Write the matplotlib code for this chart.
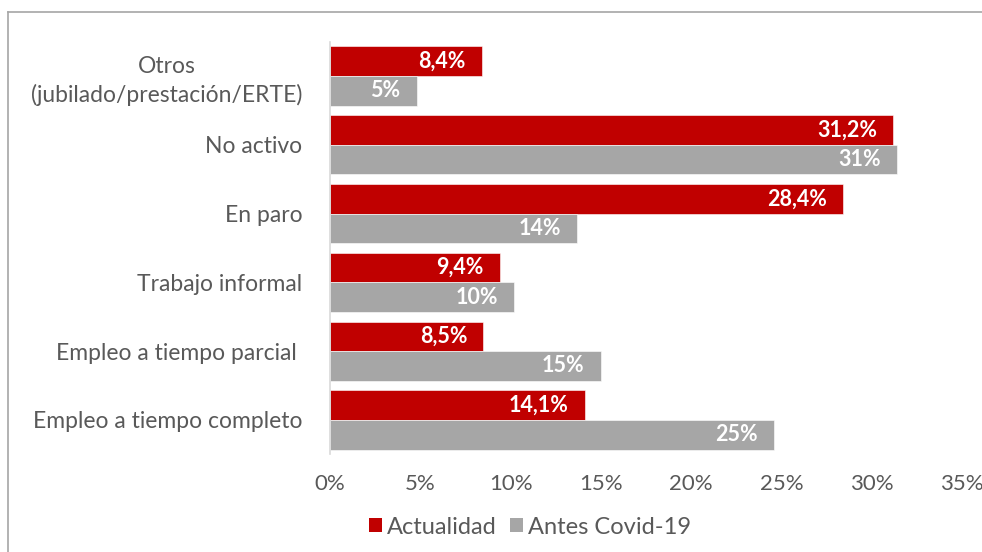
import matplotlib
matplotlib.use("Agg")
import matplotlib.pyplot as plt
from matplotlib.patches import Patch
from matplotlib.lines import Line2D
import numpy as np

categories = ["Empleo a tiempo completo", "Empleo a tiempo parcial ", "Trabajo informal",
              "En paro", "No activo", "Otros\n(jubilado/prestación/ERTE)"]
actualidad = [14.1, 8.5, 9.4, 28.4, 31.2, 8.4]
antes_covid = [24.6, 15.0, 10.2, 13.7, 31.4, 4.8]
actualidad_labels = ["14,1%", "8,5%", "9,4%", "28,4%", "31,2%", "8,4%"]
antes_labels = ["25%", "15%", "10%", "14%", "31%", "5%"]
series_names = ["Actualidad", "Antes Covid-19"]
xticks = [0, 5, 10, 15, 20, 25, 30, 35]

plt.rcParams['font.family'] = ['Lato', 'DejaVu Sans']
RED = "#C00000"
GREY = "#A6A6A6"
TXT = "#595959"

fig = plt.figure(figsize=(9.82, 5.52), dpi=100)
ax = fig.add_axes([330/982, 1-454.4/552, (962-330)/982, (454.4-41.6)/552])

y = np.arange(len(categories))
h = 0.43
ax.barh(y + h/2, actualidad, height=h, color=RED, edgecolor="white", linewidth=0.4, label=series_names[0])
ax.barh(y - h/2, antes_covid, height=h, color=GREY, edgecolor="white", linewidth=0.4, label=series_names[1])

for yi, v, lab in zip(y, actualidad, actualidad_labels):
    ax.text(v - 0.9, yi + h/2, lab, ha="right", va="center", color="white",
            fontsize=15.5, fontweight="bold")
for yi, v, lab in zip(y, antes_covid, antes_labels):
    ax.text(v - 0.9, yi - h/2, lab, ha="right", va="center", color="white",
            fontsize=15.5, fontweight="bold")

ax.set_xlim(0, 35)
ax.set_ylim(-0.5, len(categories) - 0.5)
ax.set_xticks(xticks)
ax.set_xticklabels([f"{t}%" for t in xticks])
ax.set_yticks(y)
ax.set_yticklabels(categories, ha="right", multialignment="center", linespacing=1.35)
ax.tick_params(axis="y", length=0, pad=20, labelsize=16.5, labelcolor=TXT)
ax.tick_params(axis="x", length=0, pad=14, labelsize=16, labelcolor=TXT)
for s in ["top", "right", "bottom"]:
    ax.spines[s].set_visible(False)
ax.spines["left"].set_color("#D9D9D9")
ax.spines["left"].set_linewidth(1.2)

handles = [Patch(facecolor=RED), Patch(facecolor=GREY)]
fig.legend(handles, series_names, loc="center", bbox_to_anchor=(530/982, 1-527/552),
           ncol=2, frameon=False, fontsize=17, labelcolor=TXT,
           handlelength=0.55, handleheight=0.55, handletextpad=0.2, columnspacing=0.6)

# outer frame (top and left visible, rest beyond image)
fig.add_artist(Line2D([7.5/982, 1.0], [1-12/552, 1-12/552], color="#A6A6A6", lw=1.2, transform=fig.transFigure))
fig.add_artist(Line2D([7.5/982, 7.5/982], [0, 1-12/552], color="#A6A6A6", lw=1.2, transform=fig.transFigure))

fig.savefig("out.png", dpi=100, facecolor="white")
